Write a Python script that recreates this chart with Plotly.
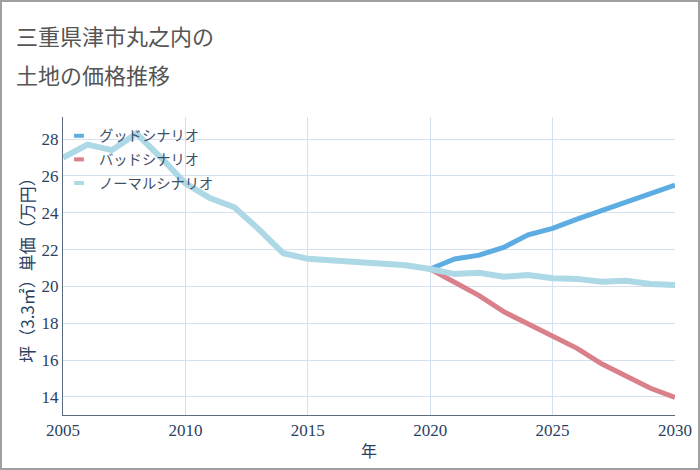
import plotly.graph_objects as go

years_hist = list(range(2005, 2021))
normal_hist = [27.0, 27.7, 27.4, 28.3, 27.0, 25.6, 24.8, 24.3, 23.1, 21.8, 21.5, 21.4, 21.3, 21.2, 21.15, 20.95]

years_fut = list(range(2020, 2031))
good = [20.95, 21.49, 21.7, 22.12, 22.8, 23.15, 23.65, 24.1, 24.55, 25.0, 25.5]
bad = [20.95, 20.25, 19.5, 18.63, 17.97, 17.28, 16.64, 15.8, 15.1, 14.47, 13.98]
normal_fut = [20.95, 20.67, 20.74, 20.53, 20.62, 20.44, 20.41, 20.26, 20.31, 20.13, 20.08]

names = ["グッドシナリオ", "バッドシナリオ", "ノーマルシナリオ"]
colors = ["#5dade2", "#d9808a", "#add8e6"]
title_lines = ["三重県津市丸之内の", "土地の価格推移"]

fig = go.Figure()
fig.add_trace(go.Scatter(x=years_fut, y=good, mode="lines", name=names[0], showlegend=False,
                         line=dict(color=colors[0], width=5)))
fig.add_trace(go.Scatter(x=years_fut, y=bad, mode="lines", name=names[1], showlegend=False,
                         line=dict(color=colors[1], width=5)))
fig.add_trace(go.Scatter(x=years_hist + years_fut[1:], y=normal_hist + normal_fut[1:], mode="lines",
                         name=names[2], showlegend=False, line=dict(color=colors[2], width=6)))
# legend entries (short dash symbols)
for i, (n, c) in enumerate(zip(names, colors)):
    fig.add_trace(go.Scatter(x=[None], y=[None], mode="markers", name=n, legendgroup=f"g{i}",
                             marker=dict(symbol="line-ew", size=7, line=dict(color=c, width=4))))

L, R, T, B = 63, 25, 117, 55
W, H = 700, 470
pw, ph = W - L - R, H - T - B

def px_x(x):
    return (x - L) / pw

def px_y(y):
    return (H - B - y) / ph

fig.update_layout(
    width=W, height=H,
    margin=dict(l=L, r=R, t=T, b=B, autoexpand=False),
    paper_bgcolor="#ffffff",
    plot_bgcolor="#ffffff",
    font=dict(family="Liberation Serif", size=17, color="#2a3f5f"),
    showlegend=True,
    legend=dict(x=-4 / pw, y=1 - 3 / ph, xanchor="left", yanchor="top", bgcolor="rgba(0,0,0,0)",
                font=dict(family="Noto Sans CJK JP", size=14.3, color="#3f4f66"),
                tracegroupgap=2, traceorder="grouped"),
    xaxis=dict(range=[2005, 2030], tickvals=[2005, 2010, 2015, 2020, 2025, 2030],
               showgrid=True, gridcolor="#d5e1ee", gridwidth=1, automargin=False,
               showline=True, linecolor="#5a6b80", linewidth=1, zeroline=False,
               ticks="", tickfont=dict(size=17),
               title=dict(text="年", font=dict(family="Noto Sans CJK JP", size=16), standoff=6)),
    yaxis=dict(range=[13.02, 29.2], tickvals=[14, 16, 18, 20, 22, 24, 26, 28],
               showgrid=True, gridcolor="#d5e1ee", gridwidth=1, automargin=False,
               showline=True, linecolor="#5a6b80", linewidth=1, zeroline=False,
               ticks="", tickfont=dict(size=17),
               title=dict(text="坪（3.3㎡）単価（万円）", font=dict(family="Noto Sans CJK JP", size=17), standoff=2)),
    annotations=[
        dict(text=title_lines[0], xref="paper", yref="paper", x=px_x(14), y=px_y(35),
             xanchor="left", yanchor="middle", showarrow=False,
             font=dict(family="Noto Sans CJK JP", size=22, color="#555555")),
        dict(text=title_lines[1], xref="paper", yref="paper", x=px_x(14), y=px_y(74),
             xanchor="left", yanchor="middle", showarrow=False,
             font=dict(family="Noto Sans CJK JP", size=22, color="#555555")),
    ],
    shapes=[dict(type="rect", xref="paper", yref="paper",
                 x0=px_x(1), x1=px_x(W - 1),
                 y0=px_y(H - 1), y1=px_y(1),
                 line=dict(color="#a0a0a0", width=2), layer="above")],
)

fig.write_html("out.html", config={"displayModeBar": False},
               post_script="document.body.style.margin='0';")
